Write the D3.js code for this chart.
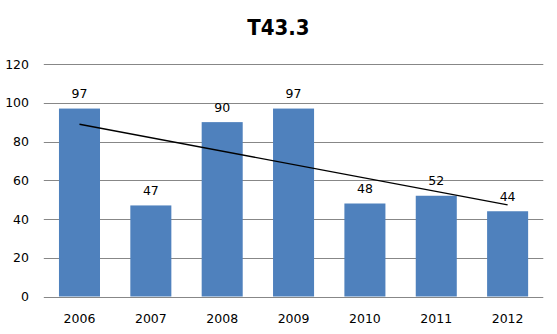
<!DOCTYPE html>
<html>
<head>
<meta charset="utf-8">
<script src="https://cdn.jsdelivr.net/npm/d3@7"></script>
<style>
  html, body { margin: 0; padding: 0; background: #fff; }
  svg { display: block; }
</style>
</head>
<body>
<svg id="chart" width="557" height="334"></svg>
<script>
// Chart data
const years = ["2006", "2007", "2008", "2009", "2010", "2011", "2012"];
const counts = [97, 47, 90, 97, 48, 52, 44];
// Trend line values at the first and last year
const trendEnds = [88.9, 47.3];
const yTicks = [0, 20, 40, 60, 80, 100, 120];
const title = "T43.3";

const svg = d3.select("#chart");
const plotLeft = 43.8, plotRight = 543.3, plotTop = 64, plotBottom = 296.5;
const labelFont = "'DejaVu Sans', Verdana, sans-serif";

const x = d3.scaleBand()
  .domain(years)
  .range([plotLeft, plotRight])
  .paddingInner(0.425)
  .paddingOuter(0.2125);

const y = d3.scaleLinear().domain([0, 120]).range([plotBottom, plotTop]);

// Title
svg.append("text")
  .attr("x", 278.3)
  .attr("y", 35)
  .attr("text-anchor", "middle")
  .style("font-family", "'DejaVu Sans Condensed', 'DejaVu Sans', sans-serif")
  .style("font-weight", "bold")
  .style("font-size", "22px")
  .attr("fill", "#000")
  .text(title);

// Horizontal gridlines
svg.append("g")
  .selectAll("line")
  .data(yTicks)
  .join("line")
  .attr("x1", plotLeft)
  .attr("x2", plotRight)
  .attr("y1", d => Math.round(y(d)) + 0.5)
  .attr("y2", d => Math.round(y(d)) + 0.5)
  .attr("stroke", "#878787")
  .attr("stroke-width", 1);

// Y axis labels
const yAxis = d3.axisLeft(y).tickValues(yTicks).tickSize(0).tickPadding(0);
const gy = svg.append("g").attr("transform", "translate(29,0)").call(yAxis);
gy.select(".domain").remove();
gy.selectAll("text")
  .style("font-family", labelFont)
  .style("font-size", "12.5px")
  .attr("fill", "#000");

// Bars
svg.append("g")
  .selectAll("rect")
  .data(counts)
  .join("rect")
  .attr("x", (d, i) => x(years[i]))
  .attr("y", d => y(d))
  .attr("width", x.bandwidth())
  .attr("height", d => y(0) - y(d))
  .attr("fill", "#4F81BD");

// Value labels above the bars
svg.append("g")
  .selectAll("text")
  .data(counts)
  .join("text")
  .attr("x", (d, i) => x(years[i]) + x.bandwidth() / 2)
  .attr("y", d => y(d) - 10.5)
  .attr("text-anchor", "middle")
  .style("font-family", labelFont)
  .style("font-size", "12.5px")
  .attr("fill", "#000")
  .text(d => d);

// Linear trend line
const cx = yr => x(yr) + x.bandwidth() / 2;
svg.append("line")
  .attr("x1", cx(years[0]))
  .attr("y1", y(trendEnds[0]))
  .attr("x2", cx(years[years.length - 1]))
  .attr("y2", y(trendEnds[1]))
  .attr("stroke", "#000")
  .attr("stroke-width", 1.3);

// X axis labels
const xAxis = d3.axisBottom(x).tickSize(0).tickPadding(0);
const gx = svg.append("g").attr("transform", "translate(0,314)").call(xAxis);
gx.select(".domain").remove();
gx.selectAll("text")
  .attr("dy", "0.71em")
  .attr("y", 0)
  .style("font-family", labelFont)
  .style("font-size", "12.5px")
  .attr("fill", "#000");
</script>
</body>
</html>
